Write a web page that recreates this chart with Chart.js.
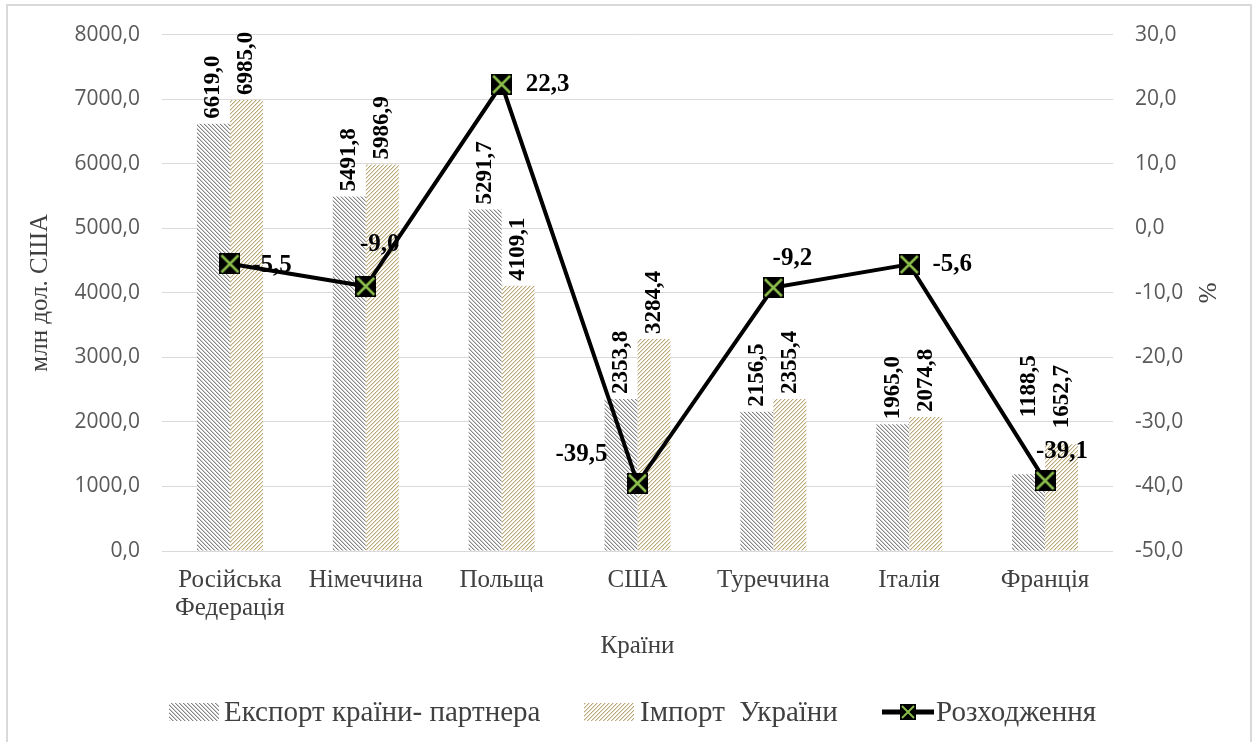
<!DOCTYPE html>
<html>
<head>
<meta charset="utf-8">
<script src="https://cdn.jsdelivr.net/npm/chart.js@4.4.1/dist/chart.umd.min.js"></script>
<style>
  html, body { margin: 0; padding: 0; background: #fff; }
  #wrap { position: relative; width: 1256px; height: 742px; overflow: hidden; }
  #frame { position: absolute; left: 6px; top: 4px; width: 1242px; height: 800px; border: 2px solid #d9d9d9; }
  #chart { position: absolute; left: 0; top: 0; }
</style>
</head>
<body>
<div id="wrap">
  <div id="frame"></div>
  <canvas id="chart" width="1256" height="742"></canvas>
</div>
<script>
// Data
const countries = [['Російська', 'Федерація'], 'Німеччина', 'Польща', 'США', 'Туреччина', 'Італія', 'Франція'];
const partnerExport = [6619.0, 5491.8, 5291.7, 2353.8, 2156.5, 1965.0, 1188.5];
const ukraineImport = [6985.0, 5986.9, 4109.1, 3284.4, 2355.4, 2074.8, 1652.7];
const discrepancy = [-5.5, -9.0, 22.3, -39.5, -9.2, -5.6, -39.1];
const seriesNames = ['Експорт країни- партнера', 'Імпорт  України', 'Розходження'];

// label placement for the line values (offset from the marker centre)
const lineLabelOffsets = [[42, 2], [14, -42], [46, 0], [-56, -29], [19, -29], [43, 0], [17, -29]];
// extra lift for a few bar labels
const exportLabelLift = [0, 0, 0, 0, 0, 0, 52];
const importLabelLift = [0, 0, 0, 0, 0, 0, 11];

const SERIF = '"Liberation Serif", "Times New Roman", serif';
const SANS = '"Open Sans", "Noto Sans", sans-serif';

const fmt = v => Number(v).toFixed(1).replace('.', ',');

function hatch(color, dir) {
    const c = document.createElement('canvas');
    c.width = 4; c.height = 4;
    const g = c.getContext('2d');
    g.fillStyle = '#fff';
    g.fillRect(0, 0, 4, 4);
    for (let i = 0; i < 4; i++) {
        const x = dir === '\\' ? i : 3 - i;
        g.fillStyle = color;
        g.fillRect(x, i, 1, 1);
        g.globalAlpha = 0.4;
        g.fillRect((x + 1) % 4, i, 1, 1);
        g.globalAlpha = 1;
    }
    return c;
}

function markerCanvas(s) {
    const c = document.createElement('canvas');
    c.width = s; c.height = s;
    const g = c.getContext('2d');
    g.fillStyle = '#000';
    g.fillRect(0, 0, s, s);
    g.strokeStyle = '#8cbf4c';
    g.lineWidth = s > 18 ? 2.5 : 1.8;
    g.beginPath();
    g.moveTo(2, 2); g.lineTo(s - 2, s - 2);
    g.moveTo(s - 2, 2); g.lineTo(2, s - 2);
    g.stroke();
    return c;
}

const ctx = document.getElementById('chart').getContext('2d');
const exportFill = ctx.createPattern(hatch('#858585', '\\'), 'repeat');
const importFill = ctx.createPattern(hatch('#bba977', '/'), 'repeat');
const marker = markerCanvas(21);
const legendMarker = markerCanvas(16);

function drawValueLabels(chart) {
    const c = chart.ctx;
    c.save();
    c.fillStyle = '#000';
    c.font = 'bold 23px ' + SERIF;
    [[0, exportLabelLift], [1, importLabelLift]].forEach(([di, lift]) => {
        const meta = chart.getDatasetMeta(di);
        meta.data.forEach((bar, i) => {
            c.save();
            c.translate(bar.x, bar.y - 5 - lift[i]);
            c.rotate(-Math.PI / 2);
            c.textAlign = 'left';
            c.textBaseline = 'middle';
            c.fillText(fmt(chart.data.datasets[di].data[i]), 0, 0);
            c.restore();
        });
    });
    c.font = 'bold 25px ' + SERIF;
    c.textAlign = 'center';
    c.textBaseline = 'middle';
    chart.getDatasetMeta(2).data.forEach((pt, i) => {
        const [dx, dy] = lineLabelOffsets[i];
        c.fillText(fmt(discrepancy[i]), pt.x + dx, pt.y + dy);
    });
    c.restore();
}

// value labels go under the line; legend is drawn at the bottom
const labelsPlugin = {
    id: 'valueLabels',
    beforeDatasetDraw(chart, args) {
        if (args.index === 2) drawValueLabels(chart);
    },
    afterDraw(chart) {
        const c = chart.ctx;
        const y = 712;
        c.save();
        c.textBaseline = 'middle';
        c.textAlign = 'left';
        [[169, 224, exportFill, seriesNames[0]], [584, 640, importFill, seriesNames[1]]].forEach(([bx, tx, fill, name]) => {
            c.fillStyle = fill;
            c.fillRect(bx, y - 9, 50, 18);
            c.font = '29px ' + SERIF;
            c.fillStyle = '#404040';
            c.fillText(name, tx, y + 1);
        });
        c.strokeStyle = '#000';
        c.lineWidth = 5;
        c.beginPath();
        c.moveTo(882, y);
        c.lineTo(934, y);
        c.stroke();
        c.drawImage(legendMarker, 908 - 8, y - 8);
        c.font = '29px ' + SERIF;
        c.fillStyle = '#404040';
        c.fillText(seriesNames[2], 936, y + 1);
        c.restore();
    }
};

new Chart(ctx, {
    type: 'bar',
    data: {
        labels: countries,
        datasets: [
            {
                label: seriesNames[0],
                data: partnerExport,
                backgroundColor: exportFill,
                borderWidth: 0,
                categoryPercentage: 0.486,
                barPercentage: 1,
                yAxisID: 'y',
                order: 1
            },
            {
                label: seriesNames[1],
                data: ukraineImport,
                backgroundColor: importFill,
                borderWidth: 0,
                categoryPercentage: 0.486,
                barPercentage: 1,
                yAxisID: 'y',
                order: 1
            },
            {
                type: 'line',
                label: seriesNames[2],
                data: discrepancy,
                borderColor: '#000',
                borderWidth: 4,
                tension: 0,
                pointStyle: marker,
                pointRadius: 10,
                pointHoverRadius: 10,
                yAxisID: 'y1',
                order: 0
            }
        ]
    },
    options: {
        responsive: false,
        animation: false,
        events: [],
        layout: { padding: { left: 8, top: 32, right: 13, bottom: 72 } },
        plugins: {
            legend: { display: false },
            tooltip: { enabled: false }
        },
        scales: {
            x: {
                grid: { display: false, drawTicks: false },
                border: { display: false },
                ticks: {
                    font: { family: SERIF, size: 25, lineHeight: 1.1 },
                    color: '#404040',
                    padding: 16,
                    maxRotation: 0,
                    autoSkip: false
                },
                title: {
                    display: true,
                    text: 'Країни',
                    font: { family: SERIF, size: 25 },
                    color: '#404040',
                    padding: { top: 0, bottom: 9 }
                },
                afterFit: s => { s.height = 119; }
            },
            y: {
                position: 'left',
                min: 0,
                max: 8000,
                ticks: {
                    stepSize: 1000,
                    callback: fmt,
                    font: { family: SANS, size: 21 },
                    color: '#595959',
                    padding: 22
                },
                grid: { color: '#d9d9d9', lineWidth: 1, drawTicks: false },
                border: { display: false },
                title: {
                    display: true,
                    text: 'млн дол. США',
                    font: { family: SERIF, size: 25 },
                    color: '#404040',
                    padding: { top: 17, bottom: 0 }
                },
                afterFit: s => { s.width = 154; }
            },
            y1: {
                position: 'right',
                min: -50,
                max: 30,
                ticks: {
                    stepSize: 10,
                    callback: fmt,
                    font: { family: SANS, size: 21 },
                    color: '#595959',
                    padding: 22
                },
                grid: { display: false, drawTicks: false },
                border: { display: false },
                title: {
                    display: true,
                    text: '%',
                    font: { family: SERIF, size: 25 },
                    color: '#404040',
                    padding: { top: 22, bottom: 0 }
                },
                afterFit: s => { s.width = 130; }
            }
        }
    },
    plugins: [labelsPlugin]
});
</script>
</body>
</html>
